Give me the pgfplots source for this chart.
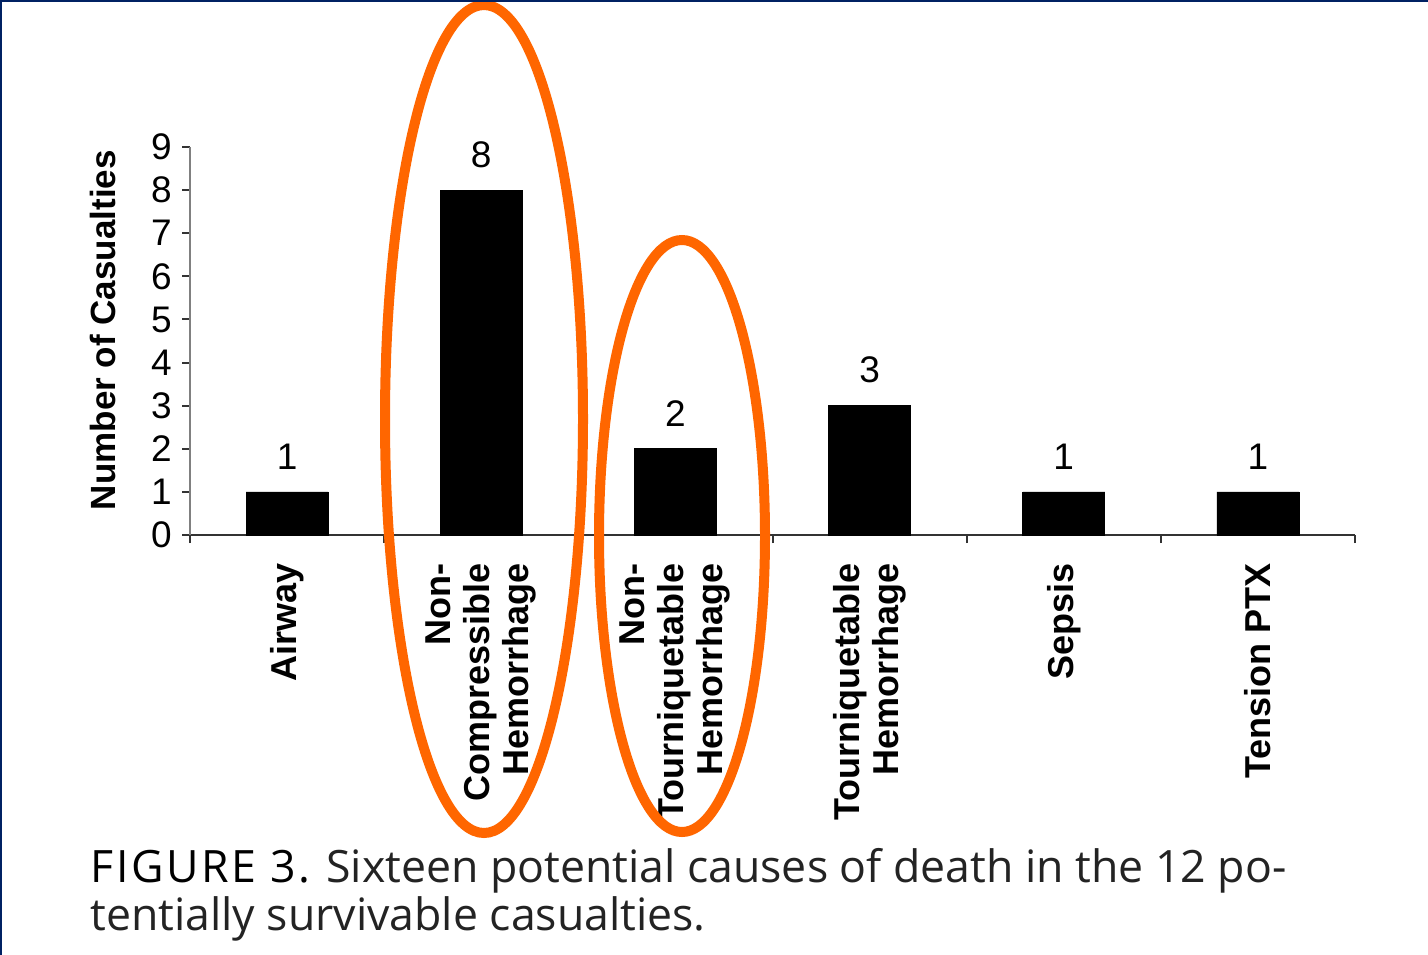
\documentclass[border=0pt]{standalone}
\usepackage{fontspec}
\setmainfont{Liberation Sans}
\newfontfamily\capfont{Open Sans}
\usepackage{pgfplots}
\pgfplotsset{compat=1.18}
\definecolor{frameblue}{RGB}{0,33,99}
\definecolor{ringorange}{RGB}{255,102,0}
\definecolor{captext}{RGB}{35,35,35}
\begin{document}
\begin{tikzpicture}
\useasboundingbox (0,0) rectangle (714bp,-477.5bp);
\fill[white] (0,0) rectangle (714bp,-477.5bp);
\begin{axis}[
  at={(95bp,-267.5bp)}, anchor=south west,
  scale only axis, width=582.5bp, height=194bp,
  xmin=0.5, xmax=6.5, ymin=0, ymax=9,
  axis lines*=left,
  x axis line style={black!80, line width=1.2bp},
  y axis line style={gray, line width=1.2bp},
  clip=false,
  ybar, bar width=41bp,
  xtick={1,...,6},
  xticklabels={Airway,{Non-\\Compressible\\Hemorrhage},{Non-\\Tourniquetable\\Hemorrhage},{Tourniquetable\\Hemorrhage},Sepsis,Tension PTX},
  major x tick style={draw=none},
  minor xtick={0.5,1.5,...,6.5},
  minor x tick style={black!80, line width=1bp},
  tick align=outside,
  major tick length=4bp, minor tick length=4bp,
  ytick={0,...,9},
  y tick style={black!80, line width=1bp},
  /pgf/number format/assume math mode=true,
  xticklabel style={rotate=90, anchor=east, align=right, font=\bfseries\fontsize{18bp}{19.5bp}\selectfont, inner sep=0pt, xshift=-10bp},
  yticklabel style={font=\fontsize{18.5bp}{20bp}\selectfont, inner sep=0pt, xshift=-5bp},
  ylabel={Number of Casualties},
  every axis y label/.style={at={(rel axis cs:0,0.528)}, rotate=90, anchor=center, yshift=43.5bp, font=\bfseries\fontsize{17.5bp}{19.5bp}\selectfont},
  nodes near coords,
  every node near coord/.append style={font=\fontsize{18.5bp}{20bp}\selectfont, inner sep=0pt, yshift=11bp, anchor=south},
]
\addplot[fill=black, draw=black] coordinates {(1,1) (2,8) (3,2) (4,3) (5,1) (6,1)};
\end{axis}
\draw[ringorange, line width=5bp] (242bp,-209.5bp) ellipse [x radius=49.5bp, y radius=207bp];
\draw[ringorange, line width=5bp] (341bp,-268bp) ellipse [x radius=41.5bp, y radius=148bp];
\node[anchor=base west, inner sep=0pt, text=captext, font=\capfont\fontsize{22.3bp}{24bp}\selectfont] at (45bp,-441bp) {{\color{black}\addfontfeatures{LetterSpace=6}FIGURE 3.} Sixteen potential causes of death in the 12 po-};
\node[anchor=base west, inner sep=0pt, text=captext, font=\capfont\fontsize{22.3bp}{24bp}\selectfont] at (45bp,-465bp) {tentially survivable casualties.};
\draw[frameblue, line width=2bp] (0,0) -- (714bp,0);
\draw[frameblue, line width=2bp] (0,0) -- (0,-477.5bp);
\end{tikzpicture}
\end{document}
